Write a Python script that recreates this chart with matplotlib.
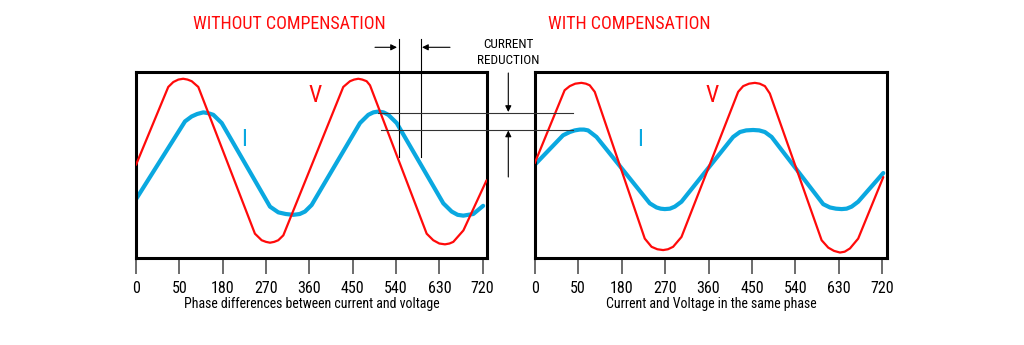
import matplotlib
matplotlib.use("Agg")
import matplotlib.pyplot as plt

plt.rcParams["font.stretch"] = "condensed"

# ---------------- data ----------------
tick_pos = [0, 90, 180, 270, 360, 450, 540, 630, 720]
tick_labels = ["0", "50", "180", "270", "360", "450", "540", "630", "720"]

# Without compensation (phase shifted)
v1_x = [0, 67, 77.5, 88, 98, 107, 115.7, 129.4, 247, 261, 270, 278.3, 287, 295.5, 306,
        430.5, 444.4, 453, 461.7, 470, 479, 486, 603.7, 617.4, 630, 641.7, 651, 659, 680, 728]
v1_y = [-0.01, 0.94, 1.00, 1.03, 1.04, 1.03, 1.01, 0.94, -0.85, -0.93, -0.95, -0.96, -0.95, -0.93, -0.87,
        0.94, 1.01, 1.03, 1.04, 1.03, 1.01, 0.96, -0.85, -0.93, -0.97, -0.98, -0.97, -0.95, -0.81, -0.20]
i1_x = [0, 101.8, 115.6, 127, 139.8, 150, 160.6, 178, 278.3, 295.6, 311, 326.7, 340, 351, 364.8,
        465.2, 482.5, 493, 503.3, 514, 524, 541.4, 638.3, 655.6, 668, 679.8, 690, 700.5, 721]
i1_y = [-0.43, 0.52, 0.58, 0.61, 0.63, 0.62, 0.60, 0.50, -0.52, -0.59, -0.61, -0.62, -0.61, -0.58, -0.50,
        0.50, 0.60, 0.63, 0.64, 0.63, 0.60, 0.50, -0.48, -0.58, -0.62, -0.63, -0.62, -0.61, -0.51]

# With compensation (in phase)
v2_x = [0, 62, 72.6, 84, 96.8, 106, 114, 124.4, 228, 242, 254, 266, 276, 286.7, 304,
        421.4, 431.8, 444, 456, 466, 476.8, 487, 594.3, 608, 620, 632.3, 642, 653, 670, 722]
v2_y = [0.01, 0.90, 0.95, 0.98, 0.99, 0.98, 0.96, 0.88, -0.91, -1.01, -1.04, -1.05, -1.04, -1.01, -0.89,
        0.88, 0.95, 0.98, 0.99, 0.98, 0.95, 0.86, -0.93, -1.02, -1.06, -1.08, -1.07, -1.03, -0.91, -0.16]
i2_x = [0, 58.7, 72.6, 83, 93.3, 102, 110.5, 128, 238.4, 252.3, 261, 269.5, 280, 290.2, 304,
        411, 425, 438, 452.5, 465, 476.8, 490.7, 597.6, 611.5, 624, 635.8, 646, 656.5, 670, 722]
i2_y = [-0.01, 0.35, 0.39, 0.41, 0.42, 0.42, 0.41, 0.33, -0.48, -0.53, -0.545, -0.55, -0.545, -0.52, -0.46,
        0.33, 0.39, 0.41, 0.415, 0.41, 0.39, 0.33, -0.49, -0.53, -0.545, -0.55, -0.545, -0.52, -0.46, -0.11]

titles = ["WITHOUT COMPENSATION", "WITH COMPENSATION"]
xlabels = ["Phase differences between current and voltage", "Current and Voltage in the same phase"]

RED = "#ff0a0a"
BLUE = "#0aa8e0"
NARROW = ["Roboto Condensed", "DejaVu Sans"]

W, H = 1024, 345
fig = plt.figure(figsize=(W / 100, H / 100), dpi=100)
fig.patch.set_facecolor("white")

def px_axes(x0, y0, x1, y1):
    return fig.add_axes([x0 / W, 1 - y1 / H, (x1 - x0) / W, (y1 - y0) / H])

axL = px_axes(136, 71.7, 487, 257.7)
axR = px_axes(534.7, 71.7, 887, 257.7)

panels = [(axL, v1_x, v1_y, i1_x, i1_y, 729.0), (axR, v2_x, v2_y, i2_x, i2_y, 729.7)]
for k, (ax, vx, vy, ix, iy, xmax) in enumerate(panels):
    ax.plot(ix, iy, color=BLUE, lw=3.0, solid_joinstyle="round", solid_capstyle="round", zorder=2)
    ax.plot(vx, vy, color=RED, lw=1.6, solid_joinstyle="round", solid_capstyle="round", zorder=3)
    ax.set_xlim(0, xmax)
    ax.set_ylim(-1.143, 1.126)
    for s in ax.spines.values():
        s.set_linewidth(2.2)
        s.set_color("black")
    ax.set_yticks([])
    ax.set_xticks(tick_pos)
    ax.set_xticklabels(tick_labels, family=NARROW, fontsize=11.5, fontstretch="condensed")
    ax.tick_params(axis="x", direction="out", length=11.5, width=1.1, color="#444444", pad=5)
    ax.set_xlabel(xlabels[k], family=NARROW, fontsize=10, fontstretch="condensed", labelpad=1)

# overlay in pixel coordinates for titles and annotations
ov = fig.add_axes([0, 0, 1, 1], zorder=5)
ov.set_xlim(0, W)
ov.set_ylim(H, 0)
ov.axis("off")
ov.patch.set_alpha(0)

tkw = dict(color=RED, family=NARROW, fontstretch="condensed", fontsize=13, ha="center", va="center")
ov.text(289, 24, titles[0], **tkw)
ov.text(629, 24, titles[1], **tkw)

# V / I labels
for (xv, xi) in [(315, 244.3), (711.7, 640)]:
    ov.text(xv, 95, "V", color=RED, family=NARROW, fontstretch="condensed", fontsize=17, ha="center", va="center")
    ov.text(xi, 140, "I", color=BLUE, family=NARROW, fontstretch="condensed", fontsize=17, ha="center", va="center")

# current reduction annotation
akw = dict(family=NARROW, fontstretch="condensed", fontsize=9.5, ha="center", va="center", color="black")
ov.text(508, 44, "CURRENT", **akw)
ov.text(508, 60, "REDUCTION", **akw)
ov.plot([398.5, 398.5], [39, 157], color="black", lw=0.8)
ov.plot([420.7, 420.7], [39, 157], color="black", lw=0.8)
ov.plot([378, 573], [112.7, 112.7], color="#333333", lw=0.8)
ov.plot([380.7, 573], [129.7, 129.7], color="#333333", lw=0.8)
ap = dict(arrowstyle="-|>", color="black", lw=0.8, mutation_scale=9, shrinkA=0, shrinkB=0)
ov.annotate("", xy=(397, 47.3), xytext=(375, 47.3), arrowprops=ap)
ov.annotate("", xy=(422, 47.3), xytext=(450, 47.3), arrowprops=ap)
ov.annotate("", xy=(508.3, 112), xytext=(508.3, 73), arrowprops=ap)
ov.annotate("", xy=(508.3, 130.5), xytext=(508.3, 177), arrowprops=ap)

fig.savefig("out.png", dpi=100, facecolor="white")
